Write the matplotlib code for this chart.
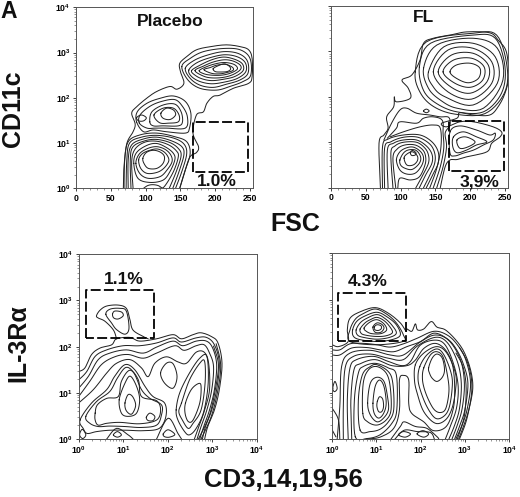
import numpy as np
import matplotlib
matplotlib.use("Agg")
import matplotlib.pyplot as plt
from matplotlib.ticker import NullFormatter, LogLocator, FixedLocator

plt.rcParams['font.family'] = ['Liberation Sans', 'DejaVu Sans']
plt.rcParams['font.weight'] = 'bold'
plt.rcParams['mathtext.fontset'] = 'custom'
plt.rcParams['mathtext.bf'] = 'Liberation Sans:bold'
plt.rcParams['mathtext.rm'] = 'Liberation Sans:bold'

# ---------- contour outlines ----------
# top panels: (FSC, log10 CD11c); bottom panels: (log10 CD3,14,19,56, log10 IL-3Ra)
PLACEBO_FSC_OPEN = [
 [(68,0),(69,.48),(73,.99),(82,1.25),(85,1.42),(80,1.66),(87,1.8),(101.5,1.99),(116,2.14),(135,2.25),(145,2.19),(155,2.32),(150,2.58),(149,2.76),(159,2.91),(173,3.06),(193,3.13),(216,3.17),(236,3.13),(248,3.06),(253,2.87),(253,2.47),(248,2.32),(226,2.21),(207,2.06),(197,2.03),(188,1.88),(183,1.69),(173,1.62),(168,1.22),(176,.92),(173,.79),(164,.7),(157,.41),(149,0)],
 [(69,0),(70,.63),(75,1.03),(92,1.18),(116,1.22),(142,1.14),(159,1.03),(164,.77),(157,.4),(149,0)],
 [(72,0),(73,.63),(77,1.0),(94,1.13),(116,1.17),(140,1.11),(155,.98),(159,.76),(152,.37),(143,0)],
 [(75,0),(75,.63),(80,.96),(97,1.09),(116,1.13),(137,1.05),(152,.92),(155,.74),(148,.37),(139,0)],
 [(79,0),(78,.63),(82,.92),(99,1.05),(116,1.08),(135,1.01),(147,.88),(151,.72),(144,.37),(134,0)],
 [(82,0),(80,.59),(85,.87),(99,1.02),(116,1.04),(133,.96),(144,.83),(147,.7),(140,.37),(127,.04),(120,0)],
 [(97,0),(103,.06),(110,.08),(118,.06),(124,0)],
]
PLACEBO_FSC_CLOSED = [
 [(152,2.69),(164,2.87),(183,3.02),(212,3.09),(236,3.06),(250,2.87),(251,2.5),(240,2.36),(221,2.25),(202,2.17),(178,2.21),(161,2.39)],
 [(157,2.65),(169,2.82),(188,2.94),(212,3.02),(233,2.98),(246,2.82),(247,2.54),(235,2.39),(216,2.3),(197,2.23),(178,2.28),(164,2.43)],
 [(162,2.61),(172,2.76),(189,2.87),(212,2.95),(231,2.91),(243,2.78),(244,2.58),(232,2.43),(214,2.35),(195,2.31),(178,2.36),(166,2.47)],
 [(166,2.6),(178,2.72),(195,2.84),(212,2.9),(228,2.85),(239,2.75),(240,2.6),(228,2.47),(212,2.41),(195,2.38),(181,2.42),(171,2.5)],
 [(171,2.6),(183,2.7),(197,2.79),(213,2.84),(226,2.81),(236,2.72),(236,2.62),(225,2.51),(211,2.45),(195,2.44),(183,2.48)],
 [(177,2.6),(188,2.69),(200,2.75),(213,2.78),(225,2.75),(231,2.69),(231,2.62),(221,2.54),(209,2.5),(195,2.5),(184,2.53)],
 [(184,2.62),(193,2.67),(202,2.72),(214,2.74),(222,2.7),(226,2.65),(225,2.6),(217,2.56),(207,2.53),(195,2.54)],
 [(197,2.64),(203,2.7),(213,2.75),(220,2.7),(222,2.63),(217,2.58),(207,2.57),(200,2.58)],
 [(87,1.47),(88,1.69),(102,1.88),(121,1.99),(140,2.04),(157,1.92),(165,1.66),(163,1.33),(157,1.22),(130,1.25),(111,1.29),(97,1.25)],
 [(91,1.44),(92,1.62),(106,1.81),(123,1.92),(142,1.96),(153,1.81),(160,1.58),(157,1.33),(130,1.33),(114,1.33),(102,1.33)],
 [(106,1.47),(109,1.69),(125,1.84),(142,1.86),(151,1.69),(153,1.47),(147,1.38),(125,1.38),(111,1.38)],
 [(112,1.62),(125,1.77),(140,1.77),(148,1.62),(147,1.47),(133,1.44),(120,1.45)],
 [(122,1.66),(130,1.77),(140,1.73),(143,1.62),(135,1.52),(125,1.55)],
 [(87,1.56),(94,1.62),(101,1.56),(97,1.49),(90,1.49)],
 [(83,.55),(87,.79),(102,.95),(116,.99),(130,.9),(140,.77),(142,.63),(135,.37),(125,.18),(106,.13),(89,.22)],
 [(86,.55),(91,.76),(103,.88),(116,.92),(128,.86),(136,.74),(138,.59),(131,.41),(121,.26),(104,.22),(92,.32)],
 [(90,.63),(95,.76),(104,.83),(116,.87),(126,.81),(132,.7),(133,.59),(126,.44),(116,.35),(102,.33),(93,.44)],
 [(96,.66),(101,.79),(111,.84),(121,.8),(127,.7),(125,.55),(116,.44),(104,.44),(98,.54)],
]

FL_FSC_OPEN = [
 [(71,0),(69,.98),(76,1.16),(82,1.31),(80,1.56),(90,1.78),(91,2.0),(94,1.89),(114,1.97),(111,2.19),(102,2.37),(116,2.48),(128,2.81),(133,3.18),(147,3.29),(171,3.36),(195,3.43),(228,3.41),(240,3.25),(252,2.99),(255,2.44),(250,2.08),(240,1.78),(228,1.6),(205,1.6),(185,1.65),(181,1.53),(159,1.42),(166,1.34),(185,1.45),(205,1.45),(233,1.34),(245,1.23),(243,1.12),(231,.98),(224,.79),(195,.68),(181,.62),(171,.61),(164,.46),(157,0)],
 [(76,1.05),(87,1.42),(99,1.71),(109,1.75),(123,1.64),(142,1.6),(157,1.56),(169,1.55),(171,1.38),(164,1.2),(166,.9),(161,.46),(152,0)],
 [(81,1.09),(94,1.31),(99,1.45),(123,1.42),(133,1.53),(147,1.56),(160,1.48),(161,1.2),(162,.87),(157,.46),(147,0)],
 [(85,1.12),(104,1.23),(128,1.34),(147,1.38),(157,1.31),(158,.9),(152,.43),(142,0)],
 [(74,0),(74,.9),(82,1.07),(104,1.16),(128,1.16),(145,1.01),(154,.79),(154,.54),(147,.31),(137,0)],
 [(77,0),(77,.87),(86,1.01),(104,1.11),(125,1.11),(142,.96),(149,.76),(149,.54),(142,.28),(133,0)],
 [(82,0),(81,.83),(90,.98),(104,1.05),(123,1.05),(137,.92),(145,.74),(145,.54),(136,.28),(127,0)],
 [(89,0),(86,.76),(92,.92),(104,1.0),(123,1.0),(135,.87),(140,.72),(140,.54),(132,.28),(122,0)],
 [(93,0),(89,.65),(95,.85),(106,.94),(121,.94),(132,.83),(136,.68),(135,.5),(127,.24),(114,.17),(99,.21),(96,0)],
]
FL_FSC_CLOSED = [
 [(171,2.55),(180,2.7),(200,2.74),(214,2.63),(212,2.41),(197,2.31),(180,2.41)],
 [(161,2.55),(176,2.81),(202,2.85),(220,2.66),(218,2.37),(200,2.21),(178,2.3)],
 [(154,2.55),(173,2.92),(204,2.96),(226,2.7),(224,2.33),(200,2.08),(173,2.21)],
 [(147,2.55),(168,3.03),(204,3.07),(231,2.77),(231,2.3),(202,1.95),(168,2.11)],
 [(140,2.55),(162,3.1),(204,3.18),(236,2.88),(239,2.3),(204,1.82),(164,2.0),(147,2.22)],
 [(133,2.63),(152,3.14),(204,3.29),(239,3.07),(247,2.37),(219,1.75),(181,1.75),(157,1.93),(140,2.19)],
 [(127,2.66),(143,3.18),(204,3.36),(236,3.29),(250,2.66),(245,2.08),(219,1.67),(181,1.67),(152,1.85),(133,2.14)],
 [(121,2.55),(137,3.21),(204,3.4),(238,3.36),(253,2.66),(249,2.08),(221,1.63),(178,1.62),(147,1.79),(128,2.1)],
 [(133,1.69),(137,1.73),(141,1.69),(137,1.65)],
 [(171,1.23),(185,1.36),(209,1.27),(228,1.16),(236,1.2),(233,1.05),(219,.94),(205,.83),(190,.76),(178,.7),(171,.76)],
 [(176,1.12),(190,1.23),(209,1.12),(224,1.01),(209,.94),(195,.83),(181,.77),(175,.9)],
 [(181,1.05),(193,1.12),(207,1.01),(197,.9),(185,.87)],
 [(94,.61),(99,.79),(109,.88),(119,.89),(129,.79),(133,.65),(130,.48),(121,.32),(109,.3),(99,.39)],
 [(99,.61),(104,.76),(111,.83),(121,.83),(127,.74),(129,.62),(125,.5),(116,.4),(106,.43),(100,.5)],
 [(105,.65),(109,.74),(117,.79),(124,.7),(124,.59),(118,.5),(109,.5)],
 [(114,.77),(117,.82),(122,.77),(121,.72),(116,.71)],
]

PLACEBO_LIN_OPEN = [
 [(.85,2.17),(.78,2.36),(.59,2.55),(.44,2.62),(.4,2.67),(.48,2.79),(.63,2.88),(.89,2.9),(1.07,2.83),(1.15,2.59),(1.22,2.36),(1.45,2.22),(1.56,2.17)],
 [(0,1.46),(.14,1.54),(.29,1.83),(.48,1.97),(.74,2.04),(.85,2.17),(1.15,2.2),(1.37,2.12),(1.75,2.17),(2.12,2.26),(2.31,2.17),(2.57,2.26),(2.75,2.3),(2.98,2.22),(3.13,2.08),(3.22,1.64),(3.16,1.07),(3.05,.63),(2.9,.27),(2.83,0)],
 [(0,1.28),(.18,1.46),(.37,1.79),(.63,1.93),(1,2.02),(1.37,2.02),(1.75,2.08),(2.12,2.19),(2.31,2.1),(2.64,2.19),(2.87,2.2),(3.05,2.04),(3.16,1.64),(3.1,1.07),(2.99,.63),(2.85,.27),(2.78,0)],
 [(0,1.1),(.22,1.36),(.44,1.72),(.7,1.86),(1.07,1.93),(1.45,1.86),(1.75,1.99),(2.12,2.12),(2.34,2.02),(2.64,2.12),(2.87,2.12),(3.01,1.97),(3.1,1.61),(3.05,1.07),(2.94,.63),(2.81,.27),(2.72,0)],
 [(0,.92),(.25,1.25),(.51,1.61),(.81,1.78),(1.11,1.83),(1.45,1.75),(1.75,1.86),(2.16,2.02),(2.37,1.92),(2.64,2.02),(2.82,2.04),(2.94,1.86),(3.03,1.57),(2.99,1.07),(2.88,.63),(2.75,.27),(2.66,0)],
 [(0,.78),(.33,1.07),(.63,1.43),(.85,1.64),(1.15,1.72),(1.41,1.54),(1.56,1.35),(1.71,1.64),(1.97,1.78),(2.23,1.67),(2.42,1.64),(2.64,1.88),(2.82,1.88),(2.92,1.64),(2.94,1.07),(2.83,.63),(2.7,.27),(2.6,0)],
 [(2.75,0),(2.98,.49),(3.13,1.07),(3.19,1.61),(3.09,2.06)],
 [(2.69,0),(2.93,.49),(3.07,1.07),(3.14,1.61),(3.03,2.01)],
 [(1.75,0),(2.01,.45),(2.23,.12),(2.31,0)],
 [(.63,0),(.85,.23),(1.11,.09),(1.22,0)],
]
PLACEBO_LIN_CLOSED = [
 [(.61,2.7),(.7,2.81),(.92,2.83),(1.07,2.77),(1.13,2.4),(1.04,2.27),(.85,2.37),(.74,2.51)],
 [(.76,2.7),(.81,2.77),(.96,2.75),(1.0,2.67),(.89,2.6),(.79,2.62)],
 [(.03,.41),(.29,.78),(.63,1.07),(.81,1.36),(1.04,1.61),(1.26,1.5),(1.49,1.14),(1.67,.92),(1.93,.78),(1.96,.49),(1.81,.23),(1.45,.18),(1.07,.19),(.7,.19),(.4,.16),(.19,.12),(.1,.23)],
 [(.16,.49),(.4,.81),(.7,1.03),(.87,1.32),(1.06,1.55),(1.24,1.43),(1.41,1.07),(1.6,.88),(1.86,.74),(1.86,.52),(1.75,.3),(1.41,.25),(1.04,.27),(.7,.28),(.44,.27),(.25,.34)],
 [(.37,.56),(.42,.74),(.63,.88),(.89,.92),(.96,1.25),(1.15,1.49),(1.34,1.28),(1.41,.92),(1.75,.83),(1.84,.63),(1.75,.41),(1.37,.33),(.93,.36),(.63,.34),(.44,.3),(.37,.41)],
 [(.91,.85),(1.04,1.21),(1.16,1.36),(1.3,1.14),(1.37,.85),(1.3,.56),(1.11,.49),(.96,.56)],
 [(1.04,.78),(1.11,.96),(1.21,.92),(1.28,.74),(1.22,.57),(1.15,.54),(1.06,.63)],
 [(1.52,.47),(1.6,.56),(1.71,.49),(1.67,.4),(1.56,.4)],
 [(1.84,1.43),(1.97,1.64),(2.12,1.63),(2.21,1.35),(2.12,1.1),(1.93,1.21)],
 [(2.4,.78),(2.53,1.07),(2.69,1.2),(2.75,1.14),(2.72,.78),(2.57,.41),(2.46,.38),(2.39,.56)],
 [(2.31,.78),(2.49,1.28),(2.72,1.64),(2.83,1.68),(2.84,1.21),(2.75,.63),(2.57,.34),(2.46,.23),(2.33,.41),(2.25,.59)],
 [(2.19,.63),(2.27,1.0),(2.49,1.43),(2.72,1.75),(2.88,1.79),(2.91,1.21),(2.81,.59),(2.64,.23),(2.49,.09),(2.38,.16),(2.23,.41)],
 [(1.9,.11),(2.01,.2),(2.16,.1),(2.04,.04),(1.93,.05)],
 [(.78,.09),(.87,.16),(.96,.09),(.87,.04)],
 [(.02,.09),(.08,.21),(.16,.09),(.09,.01)],
]

FL_LIN_OPEN = [
 [(0,2.03),(.14,1.99),(.36,2.1),(.34,2.35),(.4,2.6),(.63,2.74),(.97,2.83),(1.27,2.71),(1.54,2.5),(1.67,2.32),(1.69,2.37),(1.8,2.32),(1.88,2.48),(1.93,2.35),(2.07,2.37),(2.24,2.53),(2.37,2.41),(2.56,2.35),(2.79,2.14),(2.98,1.88),(3.13,1.49),(3.18,1.09),(3.09,.63),(2.98,.3),(2.86,0)],
 [(0,1.92),(.17,1.92),(.4,2.05),(.7,2.06),(1.01,2.03),(1.31,1.98),(1.61,2.05),(1.92,2.17),(2.3,2.32),(2.6,2.24),(2.83,2.03),(3.02,1.71),(3.13,1.2),(3.05,.63),(2.94,.3),(2.83,0)],
 [(0,1.81),(.17,1.81),(.44,1.96),(.78,1.97),(1.08,1.92),(1.39,1.88),(1.69,1.99),(2.0,2.1),(2.3,2.28),(2.6,2.16),(2.79,1.96),(2.96,1.63),(3.07,1.2),(3.0,.63),(2.89,.3),(2.77,0)],
 [(.11,0),(.17,.7),(.21,1.56),(.4,1.85),(.86,1.91),(1.31,1.81),(1.61,1.81),(1.99,2.09),(2.33,2.24),(2.64,2.12),(2.9,1.71),(2.99,1.2),(2.94,.66),(2.83,.3),(2.71,0)],
 [(.25,0),(.25,.7),(.29,1.53),(.48,1.78),(.86,1.83),(1.27,1.74),(1.61,1.71),(1.92,2.0),(2.33,2.19),(2.6,2.08),(2.83,1.67),(2.92,1.2),(2.88,.66),(2.77,.3),(2.64,0)],
 [(.36,0),(.34,.84),(.4,1.53),(.55,1.71),(.93,1.78),(1.27,1.67),(1.58,1.58),(1.77,1.67),(1.99,2.02),(2.33,2.13),(2.56,2.02),(2.75,1.6),(2.85,1.13),(2.81,.66),(2.67,.27),(2.56,0)],
 [(.44,0),(.42,.84),(.49,1.49),(.63,1.62),(.97,1.71),(1.35,1.58),(1.69,1.58),(1.88,1.7),(2.07,1.95),(2.33,2.06),(2.56,1.92),(2.72,1.6),(2.77,1.13),(2.74,.66),(2.58,.27),(2.29,.18),(2.07,.37),(1.8,.55),(1.73,.77),(1.73,1.27),(1.61,1.37),(1.52,1.27),(1.52,.63),(1.39,.23),(1.08,.04),(.78,0)],
 [(1.33,0),(1.54,.27),(1.63,.37),(1.88,.27),(2.14,.23),(2.37,.05),(2.41,0)],
 [(1.42,0),(1.63,.19),(1.92,.16),(2.22,.14),(2.31,0)],
 [(2.88,0),(3.05,.45),(3.16,1.09),(3.08,1.6),(2.88,1.97)],
 [(2.8,0),(2.98,.45),(3.03,1.09),(2.96,1.55),(2.8,1.85)],
 [(0,.66),(.14,.41),(.17,0)],
 [(0,.19),(.08,.05)],
]
FL_LIN_CLOSED = [
 [(.4,2.1),(.4,2.35),(.52,2.58),(.7,2.7),(.97,2.8),(1.23,2.69),(1.45,2.5),(1.61,2.24),(1.6,2.1),(1.0,2.03)],
 [(.46,2.35),(.55,2.53),(.74,2.65),(1.01,2.73),(1.24,2.63),(1.45,2.46),(1.54,2.24),(1.35,2.14),(1.01,2.1),(.63,2.14),(.48,2.21)],
 [(.54,2.35),(.63,2.5),(.78,2.6),(1.01,2.68),(1.2,2.59),(1.36,2.44),(1.45,2.28),(1.3,2.19),(1.01,2.15),(.7,2.19),(.57,2.24)],
 [(.63,2.37),(.74,2.5),(.86,2.57),(1.01,2.62),(1.17,2.55),(1.3,2.42),(1.36,2.29),(1.2,2.22),(.97,2.21),(.74,2.24),(.65,2.28)],
 [(.72,2.39),(.84,2.51),(1.01,2.57),(1.17,2.48),(1.23,2.35),(1.1,2.27),(.89,2.27),(.77,2.32)],
 [(.92,2.41),(1.01,2.5),(1.12,2.47),(1.17,2.39),(1.1,2.3),(.97,2.3)],
 [(.95,2.41),(1.01,2.46),(1.1,2.44),(1.11,2.38),(1.05,2.34),(.97,2.35)],
 [(.52,.05),(.5,.84),(.59,1.42),(.7,1.56),(.97,1.63),(1.27,1.53),(1.45,1.38),(1.46,.63),(1.35,.34),(1.08,.09),(.78,.01)],
 [(.63,.19),(.59,.84),(.68,1.38),(.86,1.56),(1.01,1.6),(1.27,1.45),(1.37,1.2),(1.39,.63),(1.27,.37),(1.08,.21),(.86,.16)],
 [(.69,.55),(.7,1.2),(.82,1.49),(1.01,1.56),(1.22,1.42),(1.31,1.13),(1.33,.63),(1.22,.41),(1.01,.3),(.8,.37)],
 [(.8,.77),(.86,1.2),(1.01,1.33),(1.17,1.24),(1.25,.91),(1.27,.63),(1.16,.45),(1.01,.37),(.86,.52)],
 [(.92,.77),(.97,1.13),(1.07,1.27),(1.17,1.13),(1.22,.77),(1.16,.55),(1.05,.45),(.95,.55)],
 [(1.02,.81),(1.07,.91),(1.14,.86),(1.16,.7),(1.12,.59),(1.05,.59),(1.01,.7)],
 [(1.88,1.6),(2.07,1.85),(2.37,1.99),(2.6,1.84),(2.79,1.41),(2.79,1.06),(2.71,.66),(2.56,.41),(2.33,.34),(2.07,.59),(1.92,.99),(1.86,1.27)],
 [(1.98,1.56),(2.14,1.81),(2.37,1.94),(2.54,1.79),(2.7,1.38),(2.71,1.06),(2.64,.66),(2.51,.48),(2.33,.45),(2.14,.7),(1.99,1.06),(1.94,1.31)],
 [(2.07,1.53),(2.22,1.81),(2.37,1.88),(2.51,1.76),(2.61,1.35),(2.64,1.02),(2.57,.66),(2.45,.57),(2.31,.63),(2.18,.84),(2.08,1.09),(2.04,1.31)],
 [(2.18,1.53),(2.26,1.74),(2.37,1.83),(2.49,1.74),(2.54,1.49),(2.49,1.33),(2.37,1.24),(2.26,1.31),(2.2,1.42)],
 [(1.5,.09),(1.61,.16),(1.77,.11),(1.65,.04)],
 [(1.92,.11),(2.05,.18),(2.18,.11),(2.07,.04)],
 [(.01,1.09),(.06,1.24),(.11,1.09),(.05,1.02)],
]

# gates: x range, y range (log10 for decades)
GATE_PLACEBO_FSC = ((168.6, 247.6), (0.37, 1.47))
GATE_FL_FSC = ((170, 249), (0.374, 1.475))
GATE_PLACEBO_LIN = ((0.16, 1.69), (2.19, 3.22))
GATE_FL_LIN = ((0.12, 1.67), (2.115, 3.14))

FSC_TICKS = [0, 50, 100, 150, 200, 250]
DECADES = [0, 1, 2, 3, 4]
PANEL_TITLES = ["Placebo", "FL"]
GATE_LABELS = ["1.0%", "3,9%", "1.1%", "4.3%"]

W, H = 520, 497
fig = plt.figure(figsize=(W/100, H/100), dpi=100, facecolor='white')
LINE = '#222222'


def smooth(pts, closed):
    p = np.asarray(pts, float)
    if closed:
        q = np.vstack([p[-1], p, p[0], p[1]])
    else:
        q = np.vstack([p[0], p, p[-1]])
    out = []
    t = np.linspace(0, 1, 7, endpoint=False)[:, None]
    for i in range(1, len(q)-2):
        a, b, c, d = q[i-1], q[i], q[i+1], q[i+2]
        out.append(b + 0.5*t*(c-a) + t*t*(a-2.5*b+2*c-0.5*d) + t**3*(-0.5*a+1.5*b-1.5*c+0.5*d))
    out.append(q[len(q)-2][None, :])
    return np.vstack(out)


def axes_px(l, r, t, b):
    return fig.add_axes([l/W, 1-b/H, (r-l)/W, (b-t)/H])


def finish(ax, log_x, show_y, xlim):
    ax.set_yscale('log')
    ax.set_ylim(1, 1e4)
    ax.set_yticks([10.0**d for d in DECADES])
    ax.yaxis.set_minor_locator(LogLocator(base=10, subs=np.arange(2, 10)*1.0, numticks=12))
    ax.yaxis.set_minor_formatter(NullFormatter())
    if show_y:
        ax.set_yticklabels([rf'$\mathbf{{10^{{{d}}}}}$' for d in DECADES])
    else:
        ax.set_yticklabels([])
    if log_x:
        ax.set_xscale('log')
        ax.set_xlim(1, 1e4)
        ax.set_xticks([10.0**d for d in DECADES])
        ax.set_xticklabels([rf'$\mathbf{{10^{{{d}}}}}$' for d in DECADES])
        ax.xaxis.set_minor_locator(LogLocator(base=10, subs=np.arange(2, 10)*1.0, numticks=12))
        ax.xaxis.set_minor_formatter(NullFormatter())
    else:
        ax.set_xlim(*xlim)
        ax.set_xticks(FSC_TICKS)
        ax.set_xticklabels([str(v) for v in FSC_TICKS])
        ax.xaxis.set_minor_locator(FixedLocator(np.arange(0, 251, 10)))
    ax.tick_params(which='major', length=2.5, width=0.6, labelsize=6.2, pad=1.5, color='#222222')
    ax.tick_params(which='minor', length=1.2, width=0.4, color='#444444')
    ax.tick_params(axis='y', which='both', direction='out')
    for s in ax.spines.values():
        s.set_linewidth(0.7)
        s.set_color('#555555')


def draw(ax, opened, closed, gate, log_x):
    for group, is_closed in ((opened, False), (closed, True)):
        for c in group:
            s = smooth(c, is_closed)
            xs = 10**s[:, 0] if log_x else s[:, 0]
            ax.plot(xs, 10**s[:, 1], color=LINE, lw=0.72, solid_joinstyle='round')
    (x0, x1), (y0, y1) = gate
    if log_x:
        x0, x1 = 10**x0, 10**x1
    ys = [10**y0, 10**y1, 10**y1, 10**y0, 10**y0]
    ax.plot([x0, x0, x1, x1, x0], ys, color='black', lw=1.3, ls=(0, (5.5, 1.8)))


ax1 = axes_px(76, 253.3, 7.3, 188.3)
draw(ax1, PLACEBO_FSC_OPEN, PLACEBO_FSC_CLOSED, GATE_PLACEBO_FSC, False)
finish(ax1, False, True, (0, 254.7))

ax2 = axes_px(331, 507.5, 6, 187.7)
draw(ax2, FL_FSC_OPEN, FL_FSC_CLOSED, GATE_FL_FSC, False)
finish(ax2, False, False, (0, 253.6))

ax3 = axes_px(78.7, 256.7, 254.3, 439)
draw(ax3, PLACEBO_LIN_OPEN, PLACEBO_LIN_CLOSED, GATE_PLACEBO_LIN, True)
finish(ax3, True, True, None)

ax4 = axes_px(332.3, 509, 253.3, 439)
draw(ax4, FL_LIN_OPEN, FL_LIN_CLOSED, GATE_FL_LIN, True)
finish(ax4, True, False, None)


def label(px, py, s, size, rot=0, **kw):
    fig.text(px/W, 1-py/H, s, fontsize=size, fontweight='bold', rotation=rot,
             ha='center', va='center', color='#111111', **kw)


label(8.5, 12, "A", 16.5)
label(170, 21, PANEL_TITLES[0], 12.5)
label(423, 18, PANEL_TITLES[1], 12.5)
label(13, 109, "CD11c", 18, rot=90)
label(18, 343, "IL-3R\u03b1", 18, rot=90)
label(295, 224, "FSC", 18)
label(283, 480, "CD3,14,19,56", 18.5)
label(217, 182, GATE_LABELS[0], 12.6)
label(480, 182, GATE_LABELS[1], 12.6)
label(124, 279, GATE_LABELS[2], 12.6)
label(368, 282, GATE_LABELS[3], 12.6)

fig.savefig("out.png", dpi=100)
